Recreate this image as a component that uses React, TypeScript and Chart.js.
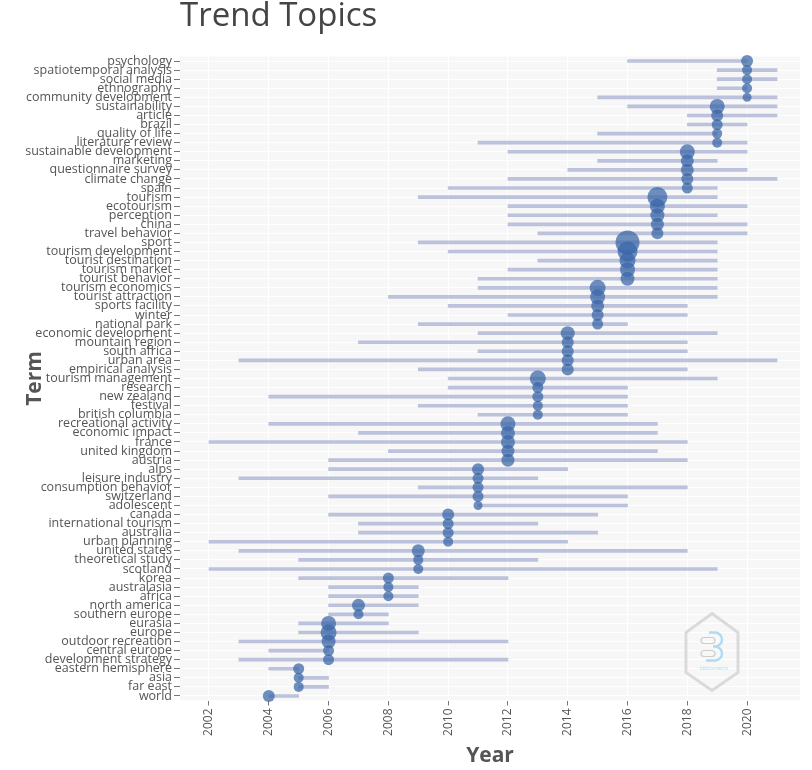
import React, { useEffect, useRef } from "react";
import { Chart, registerables } from "chart.js";

Chart.register(...registerables);

const terms = [
  "psychology", "spatiotemporal analysis", "social media", "ethnography", "community development",
  "sustainability", "article", "brazil", "quality of life", "literature review",
  "sustainable development", "marketing", "questionnaire survey", "climate change", "spain",
  "tourism", "ecotourism", "perception", "china", "travel behavior",
  "sport", "tourism development", "tourist destination", "tourism market", "tourist behavior",
  "tourism economics", "tourist attraction", "sports facility", "winter", "national park",
  "economic development", "mountain region", "south africa", "urban area", "empirical analysis",
  "tourism management", "research", "new zealand", "festival", "british columbia",
  "recreational activity", "economic impact", "france", "united kingdom", "austria",
  "alps", "leisure industry", "consumption behavior", "switzerland", "adolescent",
  "canada", "international tourism", "australia", "urban planning", "united states",
  "theoretical study", "scotland", "korea", "australasia", "africa",
  "north america", "southern europe", "eurasia", "europe", "outdoor recreation",
  "central europe", "development strategy", "eastern hemisphere", "asia", "far east",
  "world",
];

const startYears = [
  2016, 2019, 2019, 2019, 2015,
  2016, 2018, 2018, 2015, 2011,
  2012, 2015, 2014, 2012, 2010,
  2009, 2012, 2012, 2012, 2013,
  2009, 2010, 2013, 2012, 2011,
  2011, 2008, 2010, 2012, 2009,
  2011, 2007, 2011, 2003, 2009,
  2010, 2010, 2004, 2009, 2011,
  2004, 2007, 2002, 2008, 2006,
  2006, 2003, 2009, 2006, 2011,
  2006, 2007, 2007, 2002, 2003,
  2005, 2002, 2005, 2006, 2006,
  2006, 2006, 2005, 2005, 2003,
  2004, 2003, 2004, 2005, 2005,
  2004,
];

const endYears = [
  2020, 2021, 2021, 2020, 2021,
  2021, 2021, 2020, 2019, 2020,
  2020, 2019, 2020, 2021, 2019,
  2019, 2020, 2019, 2020, 2020,
  2019, 2019, 2019, 2019, 2019,
  2019, 2019, 2018, 2018, 2016,
  2019, 2018, 2018, 2021, 2018,
  2019, 2016, 2016, 2016, 2016,
  2017, 2017, 2018, 2017, 2018,
  2014, 2013, 2018, 2016, 2016,
  2015, 2013, 2015, 2014, 2018,
  2013, 2019, 2012, 2009, 2009,
  2009, 2008, 2008, 2009, 2012,
  2006, 2012, 2005, 2006, 2006,
  2005,
];

const medianYears = [
  2020, 2020, 2020, 2020, 2020,
  2019, 2019, 2019, 2019, 2019,
  2018, 2018, 2018, 2018, 2018,
  2017, 2017, 2017, 2017, 2017,
  2016, 2016, 2016, 2016, 2016,
  2015, 2015, 2015, 2015, 2015,
  2014, 2014, 2014, 2014, 2014,
  2013, 2013, 2013, 2013, 2013,
  2012, 2012, 2012, 2012, 2012,
  2011, 2011, 2011, 2011, 2011,
  2010, 2010, 2010, 2010, 2009,
  2009, 2009, 2008, 2008, 2008,
  2007, 2007, 2006, 2006, 2006,
  2006, 2006, 2005, 2005, 2005,
  2004,
];

const frequencies = [
  12, 8, 8, 8, 6,
  18, 12, 10, 8, 8,
  18, 14, 14, 12, 10,
  28, 18, 16, 14, 12,
  36, 28, 20, 18, 16,
  20, 18, 14, 12, 10,
  16, 12, 12, 12, 12,
  20, 10, 10, 8, 8,
  18, 16, 16, 14, 14,
  12, 10, 10, 10, 6,
  12, 10, 10, 8, 14,
  8, 8, 10, 8, 8,
  14, 8, 18, 20, 16,
  10, 10, 10, 8, 8,
  12,
];

const yearTicks = [2002, 2004, 2006, 2008, 2010, 2012, 2014, 2016, 2018, 2020];

const FONT = "'Open Sans', 'DejaVu Sans', sans-serif";

const plotBgPlugin = {
  id: "plotBg",
  beforeDraw(chart: any) {
    const { ctx, chartArea } = chart;
    const { left, top, right, bottom } = chartArea;
    ctx.save();
    ctx.fillStyle = "#f7f7f7";
    ctx.fillRect(left, top, right - left, bottom - top);
    ctx.restore();
  },
};

const logoPlugin = {
  id: "logo",
  beforeDatasetsDraw(chart: any) {
    const { ctx, chartArea } = chart;
    const cx = chartArea.right - 88;
    const cy = chartArea.bottom - 48;
    ctx.save();
    ctx.globalAlpha = 0.9;
    ctx.strokeStyle = "#d6d6d6";
    ctx.lineWidth = 3;
    ctx.beginPath();
    ctx.moveTo(cx, cy - 39);
    ctx.lineTo(cx + 26, cy - 20);
    ctx.lineTo(cx + 26, cy + 20);
    ctx.lineTo(cx, cy + 38);
    ctx.lineTo(cx - 26, cy + 20);
    ctx.lineTo(cx - 26, cy - 20);
    ctx.closePath();
    ctx.stroke();
    ctx.lineWidth = 1.2;
    ctx.strokeStyle = "#c8c8c8";
    ctx.beginPath();
    ctx.roundRect(cx - 11, cy - 15, 14, 6, 3);
    ctx.stroke();
    ctx.beginPath();
    ctx.roundRect(cx - 11, cy - 2, 14, 6, 3);
    ctx.stroke();
    ctx.strokeStyle = "#a9d6f0";
    ctx.lineWidth = 2.5;
    ctx.beginPath();
    ctx.moveTo(cx - 3, cy - 20);
    ctx.lineTo(cx + 3, cy - 20);
    ctx.arc(cx + 3, cy - 13, 7, -Math.PI / 2, Math.PI / 2);
    ctx.lineTo(cx + 1, cy - 6);
    ctx.moveTo(cx + 1, cy - 6);
    ctx.lineTo(cx + 3, cy - 6);
    ctx.arc(cx + 3, cy + 1, 7, -Math.PI / 2, Math.PI / 2);
    ctx.lineTo(cx - 6, cy + 8);
    ctx.stroke();
    ctx.fillStyle = "#a9d6f0";
    ctx.font = `5px ${FONT}`;
    ctx.textAlign = "center";
    ctx.fillText("bibliometrix", cx + 2, cy + 17);
    ctx.restore();
  },
};

export default function App() {
  const canvasRef = useRef<HTMLCanvasElement | null>(null);

  useEffect(() => {
    if (!canvasRef.current) return;
    const bubbleData = terms.map((t, i) => ({
      x: medianYears[i],
      y: t,
      r: 3 + frequencies[i] / 4,
    }));
    const rangeData = terms.map((_, i) => [startYears[i], endYears[i]]);

    const chart = new Chart(canvasRef.current, {
      type: "bar",
      data: {
        labels: terms,
        datasets: [
          {
            type: "bubble",
            data: bubbleData as any,
            backgroundColor: "rgba(56, 100, 166, 0.72)",
            borderWidth: 0,
            order: 0,
          } as any,
          {
            type: "bar",
            indexAxis: "y",
            data: rangeData as any,
            backgroundColor: "rgba(150, 160, 200, 0.62)",
            borderWidth: 0,
            barThickness: 3,
            order: 1,
          } as any,
        ],
      },
      options: {
        animation: false,
        responsive: false,
        maintainAspectRatio: false,
        layout: { padding: { left: 25, right: 8, top: 0, bottom: 3 } },
        plugins: {
          legend: { display: false },
          tooltip: { enabled: false },
          title: {
            display: true,
            text: "Trend Topics",
            align: "start",
            fullSize: false,
            color: "#444",
            font: { family: FONT, size: 33, weight: "normal", lineHeight: 1 },
            padding: { top: 0, bottom: 23.5 },
          },
        },
        scales: {
          x: {
            type: "linear",
            position: "bottom",
            offset: false,
            min: 2001.03,
            max: 2021.77,
            afterBuildTicks: (s: any) => {
              s.ticks = yearTicks.map((v) => ({ value: v }));
            },
            afterFit: (s: any) => {
              s.height = 66.5;
              s.paddingLeft = 0;
              s.paddingRight = 0;
            },
            ticks: {
              minRotation: 90,
              maxRotation: 90,
              color: "#555",
              font: { family: FONT, size: 12 },
              padding: 3,
              callback: (v: any) => String(v),
            },
            grid: { offset: false, color: "#ffffff", lineWidth: 1, tickColor: "#777", tickLength: 5 },
            border: { display: false },
            title: {
              display: true,
              text: "Year",
              color: "#555",
              font: { family: FONT, size: 21, weight: "bold", lineHeight: 1 },
              padding: 0,
            },
          },
          y: {
            type: "category",
            offset: true,
            afterFit: (s: any) => {
              s.width = 155;
              s.paddingTop = 0;
              s.paddingBottom = 0;
            },
            ticks: {
              color: "#555",
              font: { family: FONT, size: 12.5, lineHeight: 1 },
              padding: 2,
              autoSkip: false,
            },
            grid: { offset: false, color: "#ffffff", lineWidth: 1, tickColor: "#777", tickLength: 6 },
            border: { display: false },
            title: {
              display: true,
              text: "Term",
              color: "#555",
              font: { family: FONT, size: 21, weight: "bold", lineHeight: 1 },
              padding: 0,
            },
          },
        },
      } as any,
      plugins: [plotBgPlugin, logoPlugin],
    });
    return () => chart.destroy();
  }, []);

  return (
    <div style={{ position: "fixed", left: 0, top: 0, width: 812, height: 770, background: "#fff" }}>
      <canvas ref={canvasRef} width={812} height={770} style={{ display: "block" }} />
    </div>
  );
}
